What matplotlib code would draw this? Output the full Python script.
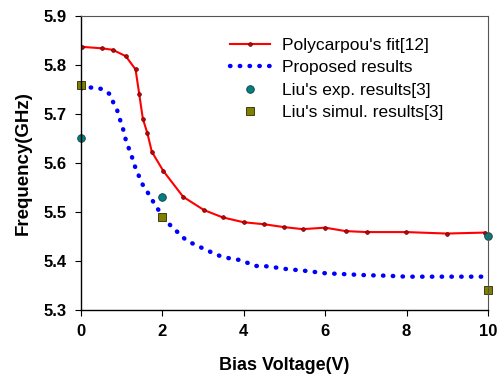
import matplotlib.pyplot as plt

plt.rcParams['font.family'] = ['Liberation Sans', 'DejaVu Sans']

# Polycarpou's fit [12]
fit_v = [0.03, 0.52, 0.78, 1.10, 1.34, 1.43, 1.52, 1.63, 1.74, 2.02, 2.51,
         3.02, 3.48, 4.0, 4.5, 5.0, 5.45, 6.0, 6.5, 7.02, 7.99, 8.99, 9.93]
fit_f = [5.837, 5.834, 5.831, 5.818, 5.791, 5.741, 5.690, 5.661, 5.623, 5.584,
         5.531, 5.504, 5.489, 5.479, 5.475, 5.469, 5.465, 5.468, 5.461, 5.459,
         5.459, 5.456, 5.458]

# proposed model
prop_v = [0.0, 0.18, 0.36, 0.55, 0.73, 0.79, 0.88, 0.94, 1.0, 1.06, 1.10, 1.16,
          1.23, 1.29, 1.35, 1.43, 1.52, 1.63, 1.74, 1.84, 1.99, 2.10, 2.29,
          2.45, 2.61, 2.81, 2.99, 3.17, 3.35, 3.52, 3.72, 3.91, 4.07, 4.26,
          4.6, 5.0, 5.5, 6.0, 6.5, 7.0, 7.5, 8.0, 9.0, 9.9]
prop_f = [5.752, 5.754, 5.754, 5.750, 5.739, 5.724, 5.710, 5.693, 5.678, 5.662,
          5.647, 5.633, 5.618, 5.602, 5.587, 5.572, 5.555, 5.541, 5.526, 5.511,
          5.495, 5.480, 5.466, 5.452, 5.441, 5.433, 5.426, 5.419, 5.412, 5.408,
          5.404, 5.402, 5.397, 5.390, 5.389, 5.384, 5.380, 5.375, 5.373, 5.371,
          5.370, 5.368, 5.368, 5.368]

# Liu's results [3]
exp_v = [0, 2, 10]
exp_f = [5.652, 5.531, 5.452]
sim_v = [0, 2, 10]
sim_f = [5.760, 5.490, 5.341]

fig = plt.figure(figsize=(5.02, 3.81), dpi=100)
ax = fig.add_axes([0.1614, 0.1864, 0.8106, 0.7716])

ax.plot(fit_v, fit_f, color='#ff0000', lw=1.5, marker='o', ms=2.7,
        mfc='#cc0000', mec='#600000', mew=0.5, label="Polycarpou's fit[12]")
ax.plot(prop_v, prop_f, color='#0000ff', lw=3.2, linestyle=(0, (0.1, 2.1)),
        dash_capstyle='round', label='Proposed results')
ax.plot(exp_v, exp_f, ls='none', marker='o', ms=5.5, mfc='#008080',
        mec='#1a3a3a', mew=0.6, label="Liu's exp. results[3]", clip_on=False)
ax.plot(sim_v, sim_f, ls='none', marker='s', ms=5.5, mfc='#808000',
        mec='#2a2a00', mew=0.6, label="Liu's simul. results[3]", clip_on=False)

ax.set_xlim(0, 10)
ax.set_ylim(5.3, 5.9)
ax.set_xticks([0, 2, 4, 6, 8, 10])
ax.set_yticks([5.3, 5.4, 5.5, 5.6, 5.7, 5.8, 5.9])
ax.set_yticklabels(['5.3', '5.4', '5.5', '5.6', '5.7', '5.8', '5.9'])
ax.tick_params(direction='out', length=4, width=0.8, labelsize=12, pad=6)
for lab in ax.get_xticklabels() + ax.get_yticklabels():
    lab.set_fontweight('bold')

for side in ['left', 'bottom']:
    ax.spines[side].set_color('black')
    ax.spines[side].set_linewidth(1.0)
for side in ['top', 'right']:
    ax.spines[side].set_color('#555555')
    ax.spines[side].set_linewidth(0.8)

ax.set_xlabel('Bias Voltage(V)', fontsize=13, fontweight='bold', labelpad=13)
ax.set_ylabel('Frequency(GHz)', fontsize=13.5, fontweight='bold', labelpad=9)

ax.legend(loc='upper left', bbox_to_anchor=(0.366, 0.926), frameon=False,
          fontsize=12.5, handlelength=2.3, handletextpad=0.7, labelspacing=0.42,
          borderaxespad=0, borderpad=0)

fig.savefig('out.png', dpi=100)
